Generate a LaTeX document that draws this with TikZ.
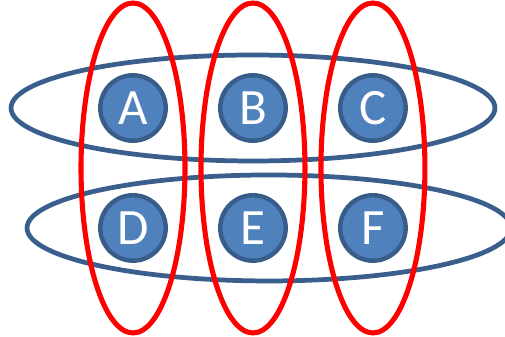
\documentclass[tikz,border=0pt]{standalone}
\usepackage{fontspec}
\setmainfont{Carlito}
\usetikzlibrary{calc,backgrounds}
\definecolor{nodefill}{HTML}{4F81BD}
\definecolor{nodeline}{HTML}{385D8A}
\definecolor{rowline}{HTML}{3B5F8C}
\tikzset{
  letter/.style={circle,draw=nodeline,fill=nodefill,line width=2.5pt,minimum size=1.31cm,inner sep=0pt,text=white,font=\fontsize{29}{29}\selectfont},
  rowring/.style={draw=rowline,line width=2.7pt},
  colring/.style={draw=red,line width=2.9pt}
}
\begin{document}
\begin{tikzpicture}[x=0.02cm,y=-0.02cm]
        \useasboundingbox (0,0) rectangle (505,337);

        % 1. Letter nodes
        \node (a) at (133,108) [letter] {A};
        \node (b) [right of = a, node distance = 2.4cm, letter] {B};
        \node (c) [right of = b, node distance = 2.4cm, letter] {C};
        \node (d) [below of = a, node distance = 2.4cm, letter] {D};
        \node (e) [right of = d, node distance = 2.4cm, letter] {E};
        \node (f) [right of = e, node distance = 2.4cm, letter] {F};

        \begin{scope}[on background layer]
        % 2. Row ellipses (blue)
        \draw[rowring] (b) ellipse [x radius=4.84cm, y radius=1.06cm];
        \draw[rowring] ($(e)+(16,0)$) ellipse [x radius=4.84cm, y radius=1.06cm];

        % 3. Column ellipses (red)
        \draw[colring] ($(a)!0.5!(d)$) ellipse [x radius=1.04cm, y radius=3.3cm];
        \draw[colring] ($(b)!0.5!(e)$) ellipse [x radius=1.04cm, y radius=3.3cm];
        \draw[colring] ($(c)!0.5!(f)$) ellipse [x radius=1.04cm, y radius=3.3cm];
        \end{scope}
    \end{tikzpicture}
\end{document}
